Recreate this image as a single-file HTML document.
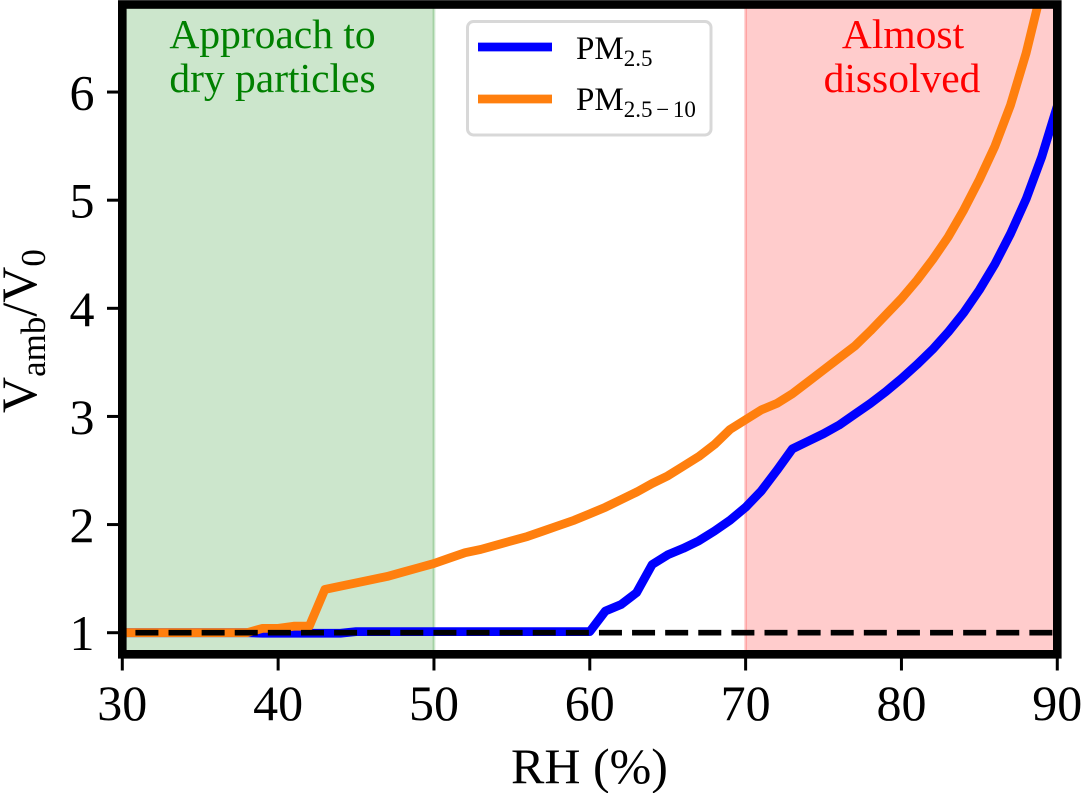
<!DOCTYPE html>
<html>
<head>
<meta charset="utf-8">
<title>Vamb/V0 vs RH</title>
<style>
html,body{margin:0;padding:0;background:#fff;width:1081px;height:793px;overflow:hidden}
svg{display:block}
text{font-family:"Liberation Serif",serif}
</style>
</head>
<body>
<svg id="chart" xmlns="http://www.w3.org/2000/svg" width="1081" height="793" viewBox="0 0 1081 793">
  <defs><clipPath id="plot-clip"><rect x="122.3" y="4.5" width="935" height="649.8"/></clipPath></defs>
  <g id="bands"></g>
  <g id="series" clip-path="url(#plot-clip)"></g>
  <g id="annotations">
    <text x="272.5" y="48" font-size="41.5" fill="#008000" text-anchor="middle">Approach to</text>
    <text x="272.5" y="92" font-size="41.5" fill="#008000" text-anchor="middle">dry particles</text>
    <text x="903" y="48" font-size="41.5" fill="#ff0000" text-anchor="middle">Almost</text>
    <text x="902" y="92" font-size="41.5" fill="#ff0000" text-anchor="middle">dissolved</text>
  </g>
  <g id="legend">
    <rect x="467.5" y="21.5" width="243.5" height="113.5" rx="6" ry="6" fill="#fff" fill-opacity="0.8" stroke="#d8d8d8" stroke-width="3"/>
    <line x1="478" y1="47" x2="552" y2="47" stroke="#0000ff" stroke-width="8.8"/>
    <text x="576" y="59" font-size="33" fill="#000">PM<tspan font-size="23" dy="7">2.5</tspan></text>
    <line x1="478" y1="99" x2="552" y2="99" stroke="#ff7f0e" stroke-width="8.8"/>
    <text x="576" y="110" font-size="33" fill="#000">PM<tspan font-size="23" dy="7" word-spacing="-2">2.5 − 10</tspan></text>
  </g>
  <g id="axes"></g>
  <text x="589.5" y="783" font-size="50" fill="#000" text-anchor="middle">RH (%)</text>
  <text transform="translate(36,413) rotate(-90)" font-size="50" fill="#000">V<tspan font-size="35" dy="9">amb</tspan><tspan dy="-9">/V</tspan><tspan font-size="35" dy="9">0</tspan></text>
</svg>
<script>
var rhValues = [30,31,32,33,34,35,36,37,38,39,40,41,42,43,44,45,46,47,48,49,50,51,52,53,54,55,56,57,58,59,60,61,62,63,64,65,66,67,68,69,70,71,72,73,74,75,76,77,78,79,80,81,82,83,84,85,86,87,88,89,90];
var pm25Values = [1,1,1,1,1,1,1,1,1,0.995,0.995,0.995,0.995,0.995,0.995,1.01,1.01,1.01,1.01,1.01,1.01,1.01,1.01,1.01,1.01,1.01,1.01,1.01,1.01,1.01,1.01,1.2,1.26,1.37,1.63,1.72,1.78,1.85,1.94,2.04,2.16,2.31,2.5,2.7,2.77,2.84,2.92,3.02,3.12,3.23,3.35,3.48,3.62,3.78,3.96,4.17,4.41,4.69,5.01,5.4,5.87];
var pm2510Values = [1,1,1,1,1,1,1,1,1,1.04,1.04,1.06,1.06,1.4,1.43,1.46,1.49,1.52,1.56,1.6,1.64,1.69,1.74,1.77,1.81,1.85,1.89,1.94,1.99,2.04,2.1,2.16,2.23,2.3,2.38,2.45,2.54,2.63,2.74,2.88,2.97,3.06,3.12,3.21,3.32,3.43,3.54,3.65,3.79,3.94,4.09,4.26,4.45,4.66,4.91,5.19,5.5,5.88,6.36,6.95,7.6];
var xTicks = [30,40,50,60,70,80,90];
var yTicks = [1,2,3,4,5,6];
var dryBand = [30,50];
var dissolvedBand = [70,90];
var referenceLevel = 1;

var NS = 'http://www.w3.org/2000/svg';
function xScale(v){ return 122.3 + (v - 30) * 15.583; }
function yScale(v){ return 632.7 - (v - 1) * 108.13; }
function make(tag, attrs, parent){
  var el = document.createElementNS(NS, tag);
  for (var k in attrs) el.setAttribute(k, attrs[k]);
  parent.appendChild(el);
  return el;
}
var bands = document.getElementById('bands');
var series = document.getElementById('series');
var axes = document.getElementById('axes');

function drawBand(range, color, name){
  var r = make('rect', {x: xScale(range[0]), y: 4.5, width: xScale(range[1]) - xScale(range[0]), height: 649.8, fill: color, 'fill-opacity': 0.2}, bands);
  
  
  [range[0], range[1]].forEach(function(edge){
    var l = make('line', {x1: xScale(edge), x2: xScale(edge), y1: 4.5, y2: 654.3, stroke: color, 'stroke-opacity': 0.2, 'stroke-width': 2.8}, bands);
    
    
  });
}
drawBand(dryBand, '#008000', 'dry-particles-band');
drawBand(dissolvedBand, '#ff0000', 'almost-dissolved-band');

function linePath(values){
  return values.map(function(v, i){
    return (i ? 'L' : 'M') + xScale(rhValues[i]).toFixed(2) + ' ' + yScale(v).toFixed(2);
  }).join(' ');
}
var bluePath = make('path', {d: linePath(pm25Values), fill: 'none', stroke: '#0000ff', 'stroke-width': 8.8, 'stroke-linejoin': 'round'}, series);


var orangePath = make('path', {d: linePath(pm2510Values), fill: 'none', stroke: '#ff7f0e', 'stroke-width': 8.8, 'stroke-linejoin': 'round'}, series);


var refLine = make('line', {x1: xScale(30), x2: xScale(90), y1: yScale(referenceLevel), y2: yScale(referenceLevel), stroke: '#000', 'stroke-width': 5.6, 'stroke-dasharray': '23 10.11', 'stroke-dashoffset': 20}, series);



xTicks.forEach(function(t){
  var m = make('line', {x1: xScale(t), x2: xScale(t), y1: 654, y2: 670.5, stroke: '#000', 'stroke-width': 3}, axes);
  
  
  var lbl = make('text', {x: xScale(t), y: 720, 'font-size': 50, 'text-anchor': 'middle', fill: '#000'}, axes);
  
  
  lbl.textContent = t;
});
yTicks.forEach(function(t){
  var m = make('line', {x1: 107, x2: 122, y1: yScale(t), y2: yScale(t), stroke: '#000', 'stroke-width': 3}, axes);
  
  
  var lbl = make('text', {x: 94.5, y: yScale(t) + 17.5, 'font-size': 50, 'text-anchor': 'end', fill: '#000'}, axes);
  
  
  lbl.textContent = t;
});
var frame = make('rect', {x: 122.3, y: 4.5, width: 935, height: 649.8, fill: 'none', stroke: '#000', 'stroke-width': 8.6}, axes);


</script>
</body>
</html>
